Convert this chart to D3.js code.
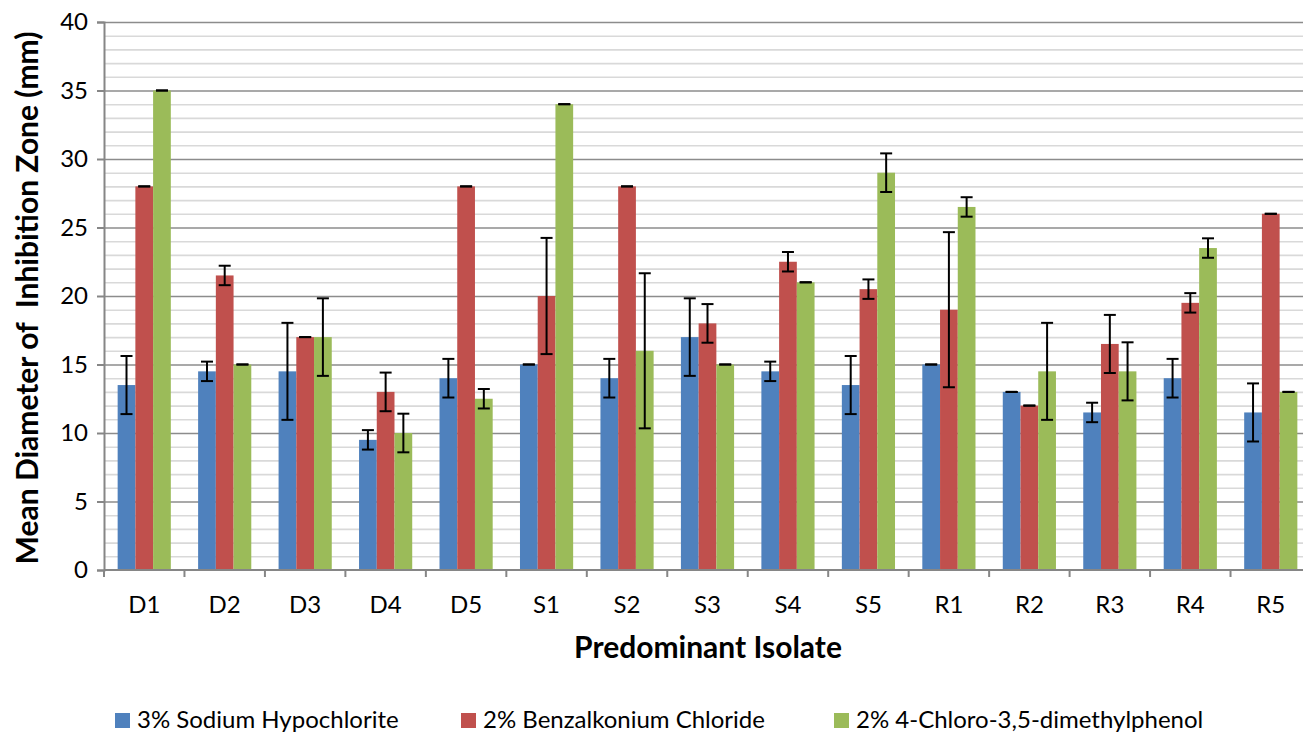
<!DOCTYPE html>
<html>
<head>
<meta charset="utf-8">
<script src="https://cdnjs.cloudflare.com/ajax/libs/d3/7.8.5/d3.min.js"></script>
<style>
    body { margin: 0; background: #fff; }
    text { font-family: Lato, "Open Sans", sans-serif; fill: #000; }
</style>
</head>
<body>
<script>
// Isolates along the x axis
var isolates = ["D1", "D2", "D3", "D4", "D5", "S1", "S2", "S3", "S4", "S5", "R1", "R2", "R3", "R4", "R5"];

// Disinfectant names (legend order)
var agents = ["3% Sodium Hypochlorite", "2% Benzalkonium Chloride", "2% 4-Chloro-3,5-dimethylphenol"];

// Mean inhibition zone (mm) per isolate
var hypochlorite = [13.5, 14.5, 14.5, 9.5, 14, 15, 14, 17, 14.5, 13.5, 15, 13, 11.5, 14, 11.5];
var benzalkonium = [28, 21.5, 17, 13, 28, 20, 28, 18, 22.5, 20.5, 19, 12, 16.5, 19.5, 26];
var chloroxylenol = [35, 15, 17, 10, 12.5, 34, 16, 15, 21, 29, 26.5, 14.5, 14.5, 23.5, 13];

// Standard deviations (error bars)
var hypochloriteSd = [2.12, 0.71, 3.54, 0.71, 1.41, 0, 1.41, 2.83, 0.71, 2.12, 0, 0, 0.71, 1.41, 2.12];
var benzalkoniumSd = [0, 0.71, 0, 1.41, 0, 4.24, 0, 1.41, 0.71, 0.71, 5.66, 0, 2.12, 0.71, 0];
var chloroxylenolSd = [0, 0, 2.83, 1.41, 0.71, 0, 5.66, 0, 0, 1.41, 0.71, 3.54, 2.12, 0.71, 0];

var yTicks = [0, 5, 10, 15, 20, 25, 30, 35, 40];

var colors = ["#4f81bd", "#c0504d", "#9bbb59"];
var means = [hypochlorite, benzalkonium, chloroxylenol];
var sds = [hypochloriteSd, benzalkoniumSd, chloroxylenolSd];

// Set the dimensions of the plot area
var width = 1303, height = 736;
var plot = { left: 104, right: 1311, top: 22, bottom: 570 };

var svg = d3.select("body").append("svg")
    .attr("width", width)
    .attr("height", height);

var x = d3.scaleBand()
    .domain(isolates)
    .range([plot.left, plot.right]);

var xInner = d3.scaleBand()
    .domain(d3.range(agents.length))
    .range([0, x.bandwidth()])
    .paddingOuter(0.77);

var y = d3.scaleLinear()
    .domain([0, 40])
    .range([plot.bottom, plot.top]);

// ****************** grid ***************************

// minor lines every 1 mm
svg.append("g")
    .selectAll("line")
    .data(d3.range(1, 41).filter(function (d) { return d % 5 != 0; }))
    .join("line")
    .attr("x1", plot.left).attr("x2", plot.right)
    .attr("y1", function (d) { return y(d) + 0.5; })
    .attr("y2", function (d) { return y(d) + 0.5; })
    .attr("stroke", "#d9d9d9")
    .attr("stroke-width", 1.6);

// major lines every 5 mm
svg.append("g")
    .selectAll("line")
    .data(yTicks.slice(1))
    .join("line")
    .attr("x1", plot.left).attr("x2", plot.right)
    .attr("y1", function (d) { return y(d) + 0.5; })
    .attr("y2", function (d) { return y(d) + 0.5; })
    .attr("stroke", "#8c8c8c")
    .attr("stroke-width", 1.4);

// ****************** bars ***************************

var groups = svg.append("g")
    .selectAll("g")
    .data(isolates)
    .join("g")
    .attr("transform", function (d) { return "translate(" + x(d) + ",0)"; });

groups.each(function (iso, i) {
    var g = d3.select(this);
    agents.forEach(function (a, k) {
        var v = means[k][i], sd = sds[k][i];
        var bx = xInner(k);
        g.append("rect")
            .attr("x", bx)
            .attr("y", y(v))
            .attr("width", xInner.bandwidth())
            .attr("height", y(0) - y(v))
            .attr("fill", colors[k]);

        // error bar
        var cx = bx + xInner.bandwidth() / 2;
        var cap = 6;
        g.append("line")
            .attr("x1", cx).attr("x2", cx)
            .attr("y1", y(v + sd)).attr("y2", y(v - sd))
            .attr("stroke", "#000").attr("stroke-width", 2);
        [v + sd, v - sd].forEach(function (e) {
            g.append("line")
                .attr("x1", cx - cap).attr("x2", cx + cap)
                .attr("y1", y(e)).attr("y2", y(e))
                .attr("stroke", "#000").attr("stroke-width", 2);
        });
    });
});

// ****************** axes ***************************

var yAxis = svg.append("g")
    .attr("transform", "translate(" + plot.left + ",0)")
    .call(d3.axisLeft(y).tickValues(yTicks).tickSize(7).tickPadding(9));

var xAxis = svg.append("g")
    .attr("transform", "translate(0," + plot.bottom + ")")
    .call(d3.axisBottom(x).tickSize(0).tickPadding(26));

// tick marks sit at the group boundaries
xAxis.selectAll(".boundary")
    .data(d3.range(isolates.length + 1))
    .join("line")
    .attr("class", "boundary")
    .attr("x1", function (d) { return plot.left + d * x.step(); })
    .attr("x2", function (d) { return plot.left + d * x.step(); })
    .attr("y1", 0).attr("y2", 7);

[yAxis, xAxis].forEach(function (ax) {
    ax.selectAll("path.domain").attr("stroke", "#868686").attr("stroke-width", 2);
    ax.selectAll("line").attr("stroke", "#868686").attr("stroke-width", 2);
    ax.selectAll("text")
        .style("font-family", "Lato, sans-serif")
        .style("font-size", "24px")
        .attr("fill", "#000");
});
xAxis.select("path.domain").attr("d", "M" + plot.left + ",0H" + plot.right);

// axis titles
svg.append("text")
    .attr("transform", "translate(38," + ((plot.top + plot.bottom) / 2 + 2) + ") rotate(-90)")
    .attr("text-anchor", "middle")
    .style("font-size", "30px")
    .style("font-weight", "bold")
    .style("white-space", "pre")
    .text("Mean Diameter of  Inhibition Zone (mm)");

svg.append("text")
    .attr("x", 708)
    .attr("y", 658)
    .attr("text-anchor", "middle")
    .style("font-size", "30px")
    .style("font-weight", "bold")
    .text("Predominant Isolate");

// ****************** legend ***************************

var legendX = [115, 461, 834];
var legend = svg.append("g")
    .selectAll("g")
    .data(agents)
    .join("g")
    .attr("transform", function (d, i) { return "translate(" + legendX[i] + ",713)"; });

legend.append("rect")
    .attr("width", 15).attr("height", 15)
    .attr("fill", function (d, i) { return colors[i]; });

legend.append("text")
    .attr("x", 22)
    .attr("y", 15)
    .style("font-size", "24px")
    .text(function (d) { return d; });
</script>
</body>
</html>
